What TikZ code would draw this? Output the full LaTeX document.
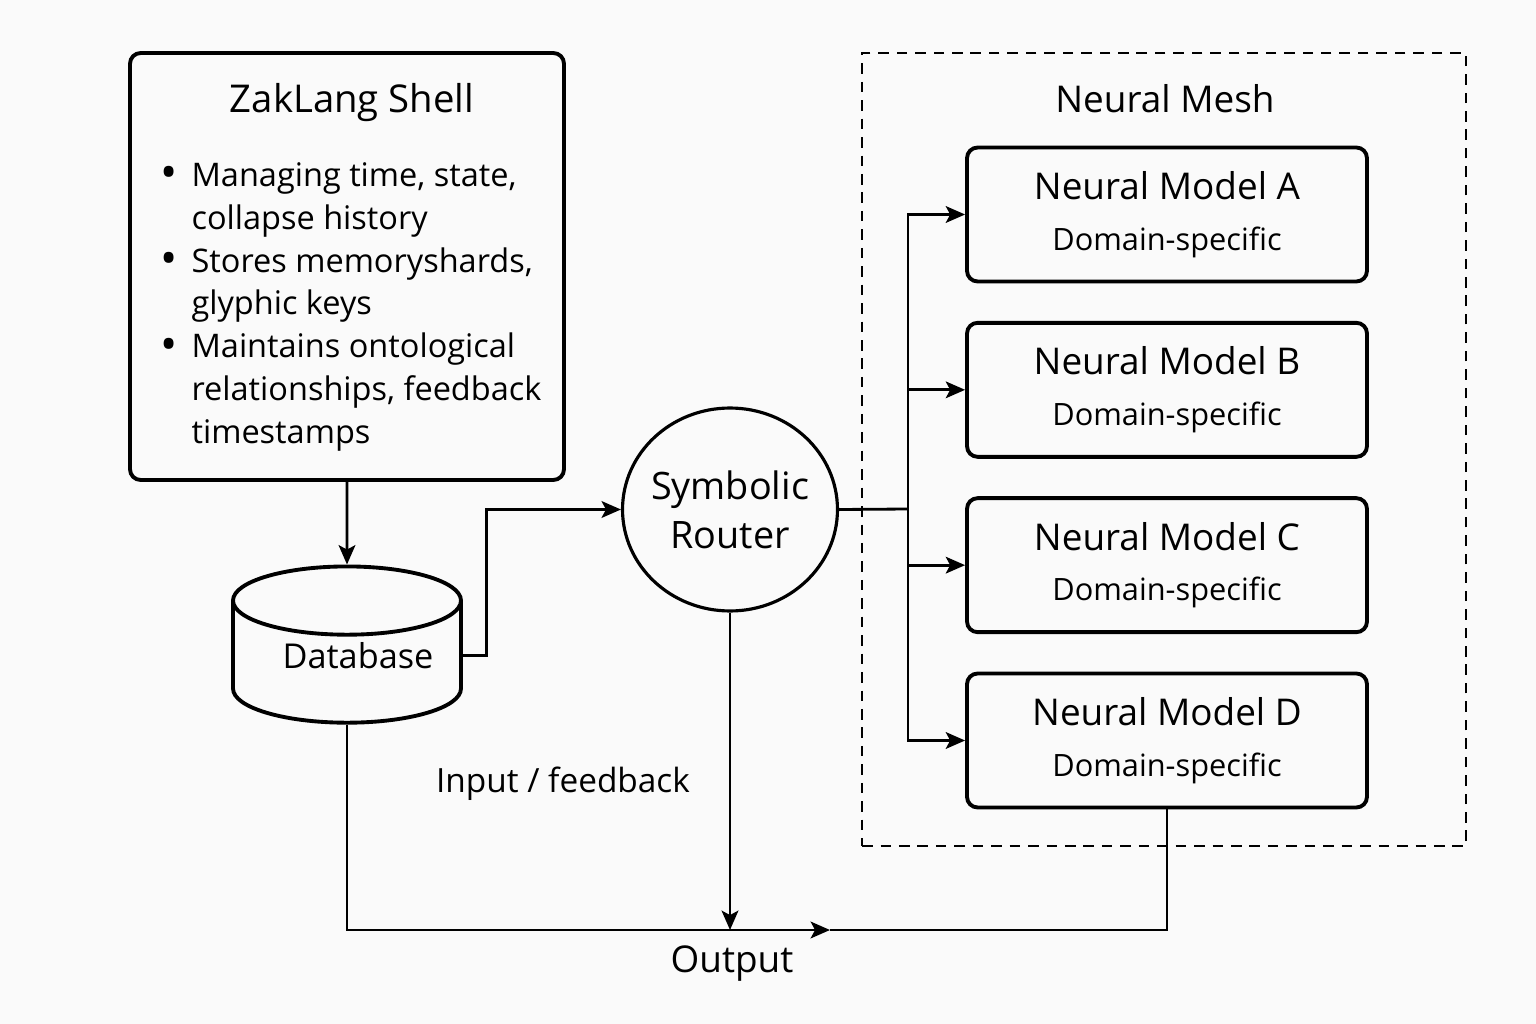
\documentclass[tikz,border=0pt]{standalone}
\usepackage{fontspec}
\setmainfont{Open Sans}
\usetikzlibrary{positioning,shapes.geometric,arrows.meta}
\definecolor{bgcol}{HTML}{FAFAFA}
\tikzset{
  box/.style={draw,line width=2.2pt,rounded corners=6pt,fill=bgcol,inner sep=0pt},
  modelbox/.style={box,minimum width=8cm,minimum height=2.68cm,align=center,
    font=\fontsize{21}{30}\selectfont},
  conn/.style={line width=1.6pt}
}
\newcommand{\shellbullet}{\raisebox{-1.5pt}{\fontsize{26}{24.4}\selectfont\textbullet}}

\begin{document}
\begin{tikzpicture}[x=0.02cm,y=-0.02cm,>={Stealth[length=11pt,width=9.5pt,inset=2.5pt]}]
  \useasboundingbox (0,0) rectangle (1536,1024);
  \fill[bgcol] (0,0) rectangle (1536,1024);

%SHELL
  \node[box,minimum width=8.68cm,minimum height=8.54cm] (shell) at (347,266.5) {};
  \node[font=\fontsize{21.8}{26}\selectfont] (shelltitle) at (352,103) {ZakLang Shell};
  \node[anchor=north west,inner sep=0pt,font=\fontsize{18.5}{24.4}\selectfont] (shelllist) at (160,156)
    {\begin{tabular}{@{}c@{\hspace{8pt}}l@{}}
      \shellbullet & Managing time, state,\\
                   & collapse history\\
      \shellbullet & Stores memoryshards,\\
                   & glyphic keys\\
      \shellbullet & Maintains ontological\\
                   & relationships, feedback\\
                   & timestamps
     \end{tabular}};

%DATABASE AND ROUTER
  \node[draw,cylinder,shape border rotate=90,aspect=0.37,line width=2.2pt,fill=bgcol,
        minimum width=4.56cm,minimum height=3cm,font=\fontsize{19.5}{22}\selectfont] (db) at (347,668)
        {\hspace{0.44cm}\raisebox{0.5cm}{Database}};
  \node[draw,ellipse,line width=1.8pt,fill=bgcol,inner sep=0pt,minimum width=4.3cm,minimum height=4.06cm,align=center,
        font=\fontsize{21.5}{28}\selectfont] (router) at (730,509.5) {\makebox[0pt]{Symbolic}\\\makebox[0pt]{Router}};

%NEURAL MESH
  \node[draw,line width=1.6pt,dash pattern=on 6pt off 4.5pt,minimum width=12.08cm,minimum height=15.86cm] (mesh) at (1164,449.5) {};
  \node[font=\fontsize{21}{26}\selectfont] (meshtitle) at (1165,99) {Neural Mesh};

  \node[modelbox] (mA) at (1167,214.5) {Neural Model A\\[-1pt]{\fontsize{17.5}{22}\selectfont Domain-specific}};
  \node[modelbox] (mB) [below=0.75cm of mA] {Neural Model B\\[-1pt]{\fontsize{17.5}{22}\selectfont Domain-specific}};
  \node[modelbox] (mC) [below=0.75cm of mB] {Neural Model C\\[-1pt]{\fontsize{17.5}{22}\selectfont Domain-specific}};
  \node[modelbox] (mD) [below=0.75cm of mC] {Neural Model D\\[-1pt]{\fontsize{17.5}{22}\selectfont Domain-specific}};

%CONNECTIONS
  \draw[conn,->] (shell.south) -- (db.north);
  \draw[conn,->] (db.6.5) -- ++(24,0) |- (router.west);

  \coordinate (split) at (908,509);
  \draw[conn] (router.east) -- (split);
  \draw[conn,->] (split) |- (mA.west);
  \draw[conn,->] (split) |- (mB.west);
  \draw[conn,->] (split) |- (mC.west);
  \draw[conn,->] (split) |- (mD.west);

  \coordinate (outjoin) at (730,930);
  \coordinate (outarrow) at (830,930);
  \draw[conn,->] (router.south) -- (outjoin);
  \draw[conn,->] (db.south) |- (outarrow);
  \draw[conn] (mD.south) |- (outarrow);

  \node[font=\fontsize{19}{22}\selectfont] (fblabel) at (563,784) {Input / feedback};
  \node[font=\fontsize{21}{26}\selectfont] (outlabel) at (732,964) {Output};
\end{tikzpicture}
\end{document}
